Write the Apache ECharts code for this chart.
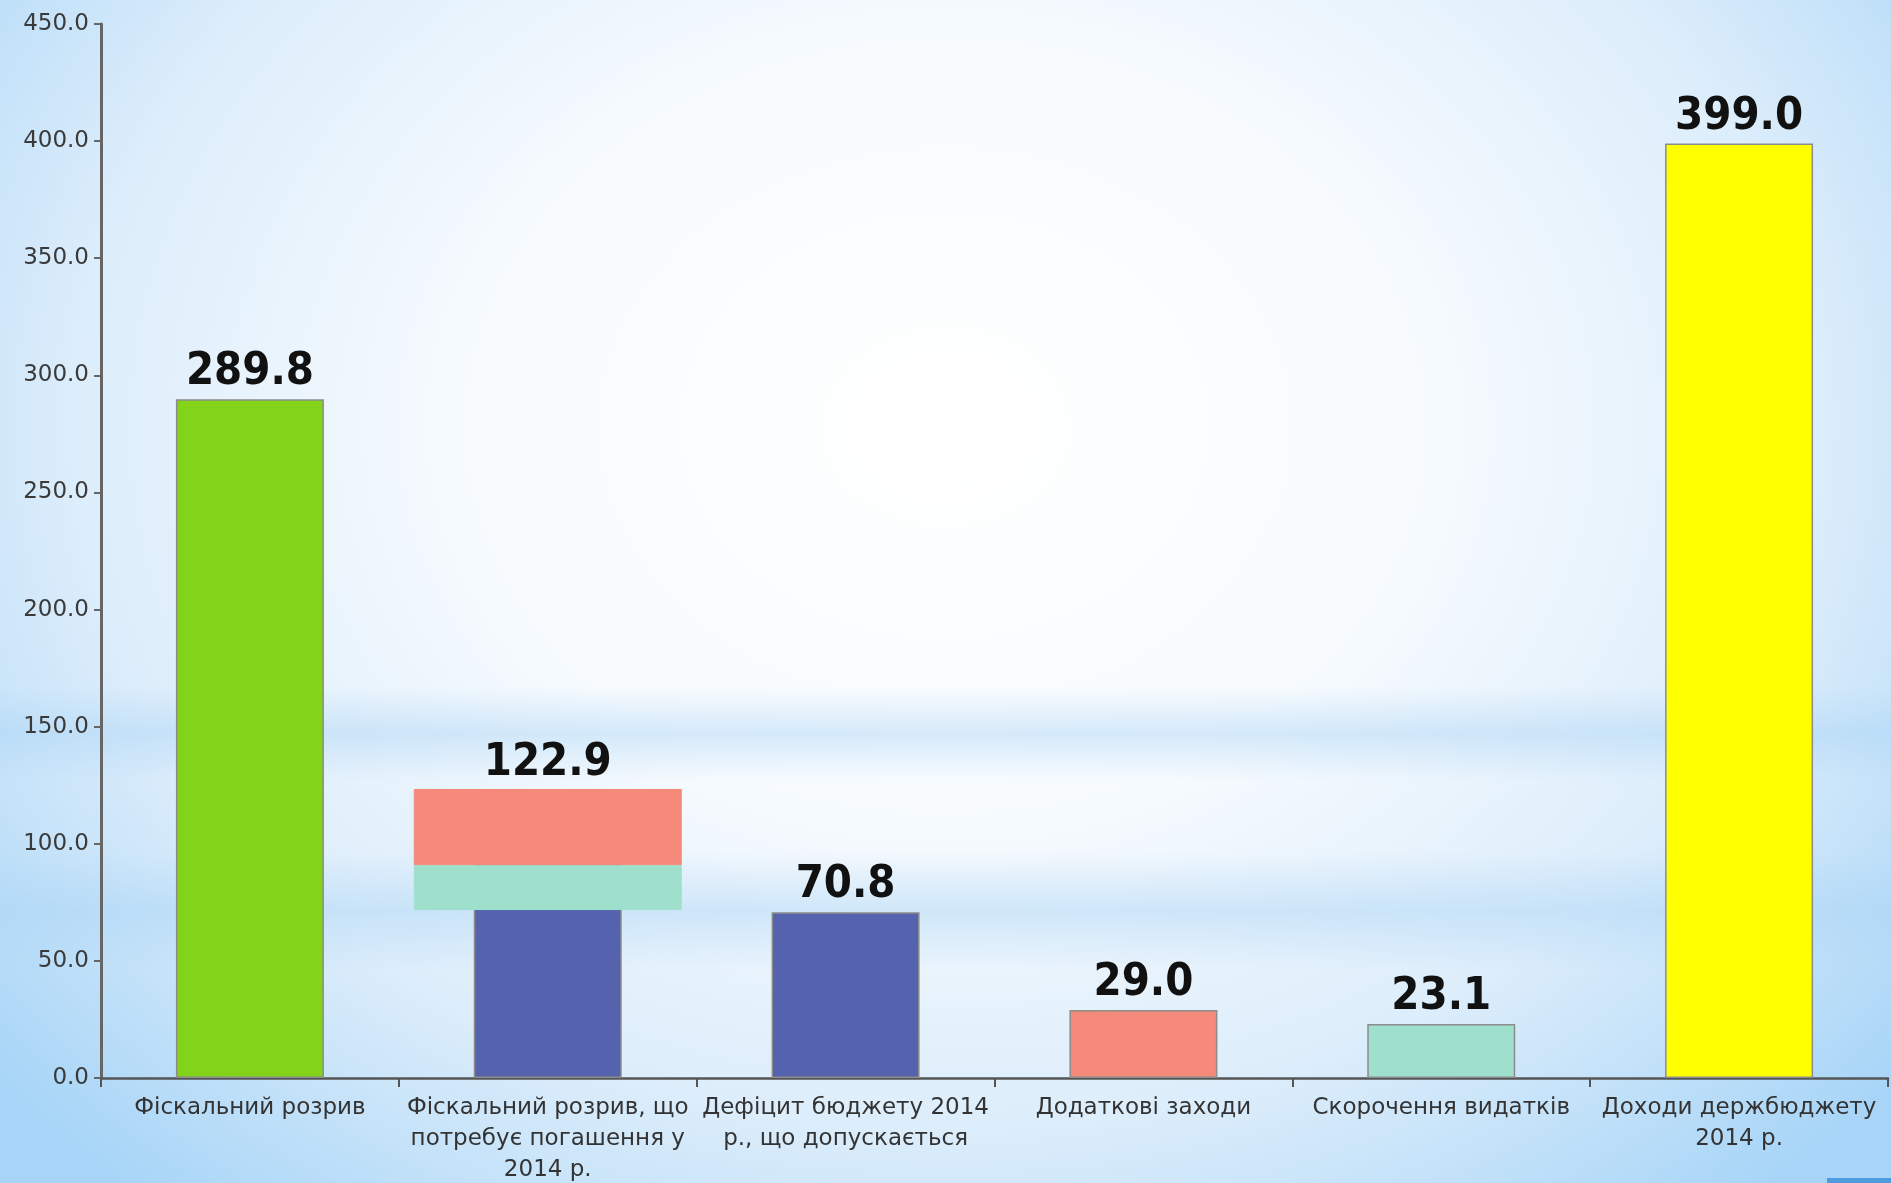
<!DOCTYPE html>
<html>
<head>
<meta charset="utf-8">
<script src="https://cdn.jsdelivr.net/npm/echarts@6/dist/echarts.min.js"></script>
<style>
  html, body { margin: 0; padding: 0; }
  body {
    width: 1891px; height: 1183px; overflow: hidden;
    background:
      linear-gradient(to bottom, rgba(255,255,255,0) 58%, rgba(170,212,245,0.45) 62%, rgba(255,255,255,0) 66%,
        rgba(255,255,255,0) 72%, rgba(170,212,245,0.45) 77%, rgba(255,255,255,0) 82%),
      radial-gradient(ellipse 66% 85% at 50% 36%, #ffffff 0%, #f7fbfe 38%, #dcedfb 70%, #a8d5f7 100%);
  }
  #box { width: 1891px; height: 1183px; }
</style>
</head>
<body>
<div id="box"></div>
<script>
// категорії та значення (млрд грн)
var categories = [
    'Фіскальний розрив',
    'Фіскальний розрив, що\nпотребує погашення у\n2014 р.',
    'Дефіцит бюджету 2014\nр., що допускається',
    'Додаткові заходи',
    'Скорочення видатків',
    'Доходи держбюджету\n2014 р.'
];
var values = [289.8, 122.9, 70.8, 29.0, 23.1, 399.0];
var barColors = ['#82d31a', '#5563ae', '#5563ae', '#f58a7a', '#9ee0cc', '#ffff00'];

// накладка на другому стовпці (розклад 122.9)
var overlayBase = [null, 71.7, null, null, null, null];
var overlayMint = [null, 19.2, null, null, null, null];
var overlaySalmon = [null, 32.5, null, null, null, null];

var yMin = 0, yMax = 450, yStep = 50;

var labelFont = '"DejaVu Sans", sans-serif';
var valueFont = '"DejaVu Sans Condensed", "DejaVu Sans", sans-serif';

var myChart = echarts.init(document.getElementById('box'));
var option = {
    backgroundColor: 'transparent',
    animation: false,
    grid: {
        left: 101,
        right: 3,
        top: 24,
        bottom: 105,
        outerBoundsMode: 'none',
        containLabel: false
    },
    xAxis: [{
        type: 'category',
        data: categories,
        axisLine: { lineStyle: { color: '#555', width: 2.5 } },
        axisTick: { show: true, length: 9, lineStyle: { color: '#555', width: 2 } },
        axisLabel: {
            interval: 0,
            margin: 15,
            fontFamily: labelFont,
            fontSize: 23,
            lineHeight: 31,
            color: '#333'
        }
    }, {
        type: 'category',
        data: categories,
        show: false
    }],
    yAxis: {
        type: 'value',
        min: yMin,
        max: yMax,
        interval: yStep,
        splitLine: { show: false },
        axisLine: { show: true, lineStyle: { color: '#666', width: 3 } },
        axisTick: { show: true, length: 7, lineStyle: { color: '#666', width: 2 } },
        axisLabel: {
            margin: 12,
            fontFamily: labelFont,
            fontSize: 23,
            color: '#3a3a3a',
            formatter: function (v) { return v.toFixed(1); }
        }
    },
    series: [
        {
            name: 'main',
            type: 'bar',
            barWidth: 148,
            data: values.map(function (v, i) {
                return { value: v, itemStyle: { color: barColors[i] } };
            }),
            itemStyle: { borderColor: '#8c8c8c', borderWidth: 1.5 },
            label: {
                show: true,
                position: 'top',
                distance: 4,
                fontFamily: valueFont,
                fontWeight: 'bold',
                fontSize: 45,
                color: '#111',
                formatter: function (p) { return p.value.toFixed(1); }
            },
            z: 2
        },
        {
            name: 'base',
            type: 'bar',
            xAxisIndex: 1,
            stack: 'ov',
            barWidth: 268,
            data: overlayBase,
            itemStyle: { color: 'rgba(0,0,0,0)' },
            silent: true,
            z: 3
        },
        {
            name: 'mint',
            type: 'bar',
            xAxisIndex: 1,
            stack: 'ov',
            barWidth: 268,
            data: overlayMint,
            itemStyle: { color: '#9ee0cc', borderColor: '#9ee0cc', borderWidth: 1 },
            z: 3
        },
        {
            name: 'salmon',
            type: 'bar',
            xAxisIndex: 1,
            stack: 'ov',
            barWidth: 268,
            data: overlaySalmon,
            itemStyle: { color: '#f58a7a', borderColor: '#f58a7a', borderWidth: 1 },
            z: 3
        }
    ],
    graphic: [{
        type: 'rect',
        right: 0,
        bottom: 0,
        shape: { width: 64, height: 5 },
        style: { fill: '#4f9be0' }
    }]
};

myChart.setOption(option);
</script>
</body>
</html>
